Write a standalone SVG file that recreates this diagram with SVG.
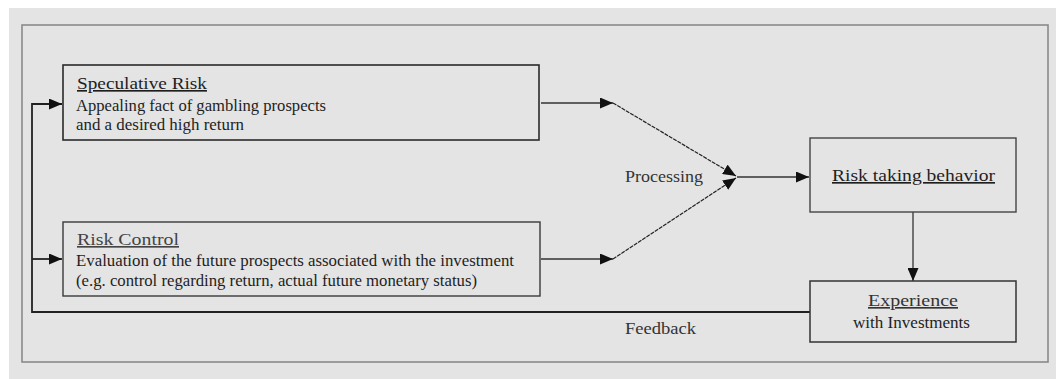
<svg xmlns="http://www.w3.org/2000/svg" width="1056" height="379" viewBox="0 0 1056 379">
<defs>
<style>
text{fill:#1e1e1e;}
.h{font-size:16.5px;}
.b{font-size:16px;}
.u{text-decoration:underline;}
.box{fill:none;stroke:#2a2a2a;stroke-width:1.6;}
.ln{fill:none;stroke:#333;stroke-width:1.3;}
.dg{fill:none;stroke:#222;stroke-width:1.2;stroke-dasharray:4 1;}
.fb{fill:none;stroke:#222;stroke-width:1.8;}
</style>
<marker id="ah" markerWidth="13" markerHeight="11" refX="13" refY="5.5" orient="auto" markerUnits="userSpaceOnUse">
<path d="M0,0 L13,5.5 L0,11 Z" fill="#111"/>
</marker>
</defs>
<rect x="9" y="8" width="1047" height="371" fill="#e4e4e4"/>
<rect x="22" y="25" width="1026" height="337" fill="none" stroke="#8a8a8a" stroke-width="1.6"/>

<g id="connectors">
<polyline class="fb" points="810,312 32,312 32,104 62,104" marker-end="url(#ah)"/>
<line class="fb" x1="32" y1="259" x2="62" y2="259" marker-end="url(#ah)"/>
<line class="ln" x1="541" y1="103" x2="613" y2="103" marker-end="url(#ah)"/>
<line class="ln" x1="541" y1="259" x2="613" y2="259" marker-end="url(#ah)"/>
<line class="dg" x1="613" y1="103" x2="736" y2="176" marker-end="url(#ah)"/>
<line class="dg" x1="613" y1="259" x2="736" y2="178" marker-end="url(#ah)"/>
<line class="ln" x1="737" y1="177" x2="809" y2="177" marker-end="url(#ah)"/>
<line class="ln" x1="913" y1="212" x2="913" y2="281" marker-end="url(#ah)"/>
</g>

<g id="speculative-risk" font-family="Liberation Serif, serif">
<rect class="box" x="63" y="65" width="476" height="75"/>
<text class="h u" x="77" y="89" textLength="130" lengthAdjust="spacingAndGlyphs">Speculative Risk</text>
<text class="b" x="76" y="111" textLength="250" lengthAdjust="spacingAndGlyphs">Appealing fact of gambling prospects</text>
<text class="b" x="76" y="130" textLength="168" lengthAdjust="spacingAndGlyphs">and a desired high return</text>
</g>

<g id="risk-control" font-family="Liberation Serif, serif">
<rect class="box" x="63" y="222" width="477" height="74" style="stroke:#3a3a3a;stroke-width:1.4"/>
<text class="h u" x="77" y="245" textLength="102" lengthAdjust="spacingAndGlyphs" style="fill:#444">Risk Control</text>
<text class="b" x="76" y="266" textLength="438" lengthAdjust="spacingAndGlyphs">Evaluation of the future prospects associated with the investment</text>
<text class="b" x="76" y="286" textLength="401" lengthAdjust="spacingAndGlyphs">(e.g. control regarding return, actual future monetary status)</text>
</g>

<g id="processing" font-family="Liberation Serif, serif">
<text class="b" x="625" y="182" textLength="78" lengthAdjust="spacingAndGlyphs" style="fill:#333">Processing</text>
</g>

<g id="risk-taking-behavior" font-family="Liberation Serif, serif">
<rect class="box" x="810" y="138" width="206" height="74" style="stroke:#444;stroke-width:1.4"/>
<text class="h u" x="832" y="181" textLength="163" lengthAdjust="spacingAndGlyphs">Risk taking behavior</text>
</g>

<g id="experience" font-family="Liberation Serif, serif">
<rect class="box" x="810" y="281" width="206" height="61" style="stroke:#333;stroke-width:1.5"/>
<text class="h u" x="868" y="306" textLength="90" lengthAdjust="spacingAndGlyphs" style="fill:#333">Experience</text>
<text class="b" x="853" y="328" textLength="117" lengthAdjust="spacingAndGlyphs">with Investments</text>
</g>

<g id="feedback" font-family="Liberation Serif, serif">
<text class="b" x="625" y="334" textLength="71" lengthAdjust="spacingAndGlyphs" style="fill:#333">Feedback</text>
</g>
</svg>
